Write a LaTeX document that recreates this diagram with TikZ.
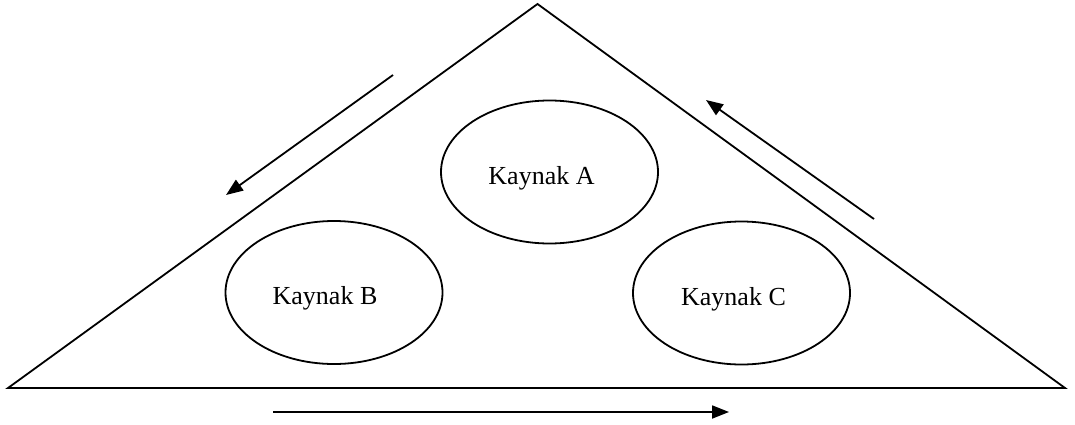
\documentclass[tikz,border=0pt]{standalone}
\usepackage{fontspec}
\setmainfont{Liberation Serif}
\usetikzlibrary{arrows.meta,shapes.geometric,calc}
\begin{document}
\begin{tikzpicture}[x=1pt,y=-1pt,
  edge/.style={line width=1.8pt, line join=miter},
  source/.style={draw, ellipse, line width=1.8pt, minimum width=217pt, minimum height=143pt, inner sep=0pt},
  srclabel/.style={font=\fontsize{26}{30}\selectfont, inner sep=0pt},
  flow/.style={line width=1.8pt, -{Triangle[length=17pt,width=13pt]}}]
  \useasboundingbox (0,0) rectangle (1075,425);

  % outer triangle
  \coordinate (top) at (537.5,4);
  \coordinate (bl) at (8,388);
  \coordinate (br) at (1065,388);
  \draw[edge] (top) -- (bl) -- (br) -- cycle;

  % the three sources
  \node[source] (A) at (549.5,172) {};
  \node[source] (B) at (334,292.5) {};
  \node[source] (C) at (741.5,293) {};
  \node[srclabel, anchor=base] (tA) at ($(A)+(-8,12)$) {Kaynak A};
  \node[srclabel, anchor=base] (tB) at ($(B)+(-9,12)$) {Kaynak B};
  \node[srclabel, anchor=base] (tC) at ($(C)+(-8,12)$) {Kaynak C};

  % circulation arrows along the sides
  \coordinate (l1) at (393,75);
  \coordinate (l2) at (226,195);
  \coordinate (r1) at (874,219);
  \coordinate (r2) at (706,100);
  \coordinate (b1) at (273,412);
  \coordinate (b2) at (729,412);
  \draw[flow] (l1) -- (l2);
  \draw[flow] (r1) -- (r2);
  \draw[flow] (b1) -- (b2);
\end{tikzpicture}
\end{document}
